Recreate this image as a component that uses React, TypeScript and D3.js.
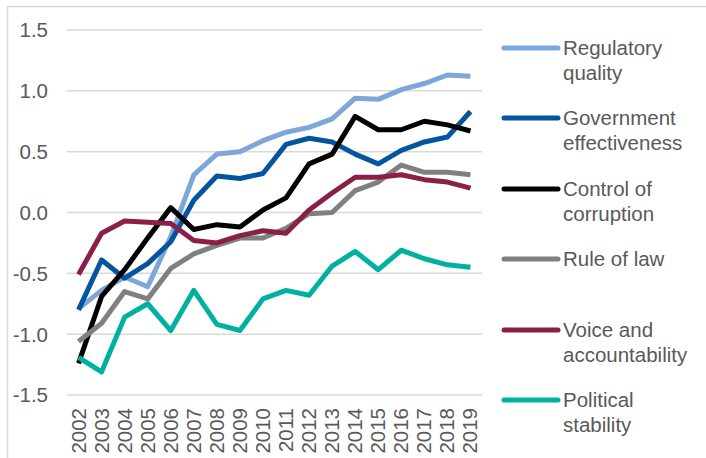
import React from "react";
import * as d3 from "d3";

const years = ["2002","2003","2004","2005","2006","2007","2008","2009","2010","2011","2012","2013","2014","2015","2016","2017","2018","2019"];
const regulatoryQuality = [-0.79,-0.64,-0.53,-0.61,-0.2,0.31,0.48,0.5,0.59,0.66,0.7,0.77,0.94,0.93,1.01,1.06,1.13,1.12];
const governmentEffectiveness = [-0.8,-0.39,-0.54,-0.42,-0.24,0.1,0.3,0.28,0.32,0.56,0.61,0.58,0.48,0.4,0.51,0.58,0.62,0.83];
const controlOfCorruption = [-1.24,-0.69,-0.47,-0.21,0.04,-0.14,-0.1,-0.12,0.02,0.12,0.4,0.48,0.79,0.68,0.68,0.75,0.72,0.67];
const ruleOfLaw = [-1.06,-0.91,-0.65,-0.71,-0.46,-0.34,-0.27,-0.21,-0.21,-0.13,-0.01,0.0,0.18,0.25,0.39,0.33,0.33,0.31];
const voiceAccountability = [-0.51,-0.17,-0.07,-0.08,-0.09,-0.23,-0.25,-0.19,-0.15,-0.17,0.02,0.16,0.29,0.29,0.31,0.27,0.25,0.2];
const politicalStability = [-1.19,-1.31,-0.86,-0.75,-0.97,-0.64,-0.92,-0.97,-0.71,-0.64,-0.68,-0.44,-0.32,-0.47,-0.31,-0.38,-0.43,-0.45];
const yTicks = [-1.5,-1.0,-0.5,0.0,0.5,1.0,1.5];

const series = [
  { label: ["Regulatory", "quality"], values: regulatoryQuality, color: "#7DA6D9" },
  { label: ["Government", "effectiveness"], values: governmentEffectiveness, color: "#0455A0" },
  { label: ["Control of", "corruption"], values: controlOfCorruption, color: "#000000" },
  { label: ["Rule of law"], values: ruleOfLaw, color: "#808080" },
  { label: ["Voice and", "accountability"], values: voiceAccountability, color: "#8A1F47" },
  { label: ["Political", "stability"], values: politicalStability, color: "#00B0A0" },
];

export default function App() {
  const W = 706, H = 458;
  const left = 67, right = 482, top = 30, bottom = 395;
  const x = d3.scaleBand<string>().domain(years).range([left, right]);
  const y = d3.scaleLinear().domain([-1.5, 1.5]).range([bottom, top]);
  const line = d3.line<number>()
    .x((_, i) => (x(years[i]) as number) + x.bandwidth() / 2)
    .y((d) => y(d));
  const font = "Liberation Sans, Arial, sans-serif";
  const fs = 20.5;
  const legendY = [48, 118, 189, 259, 330, 400];
  return (
    <svg width={W} height={H} style={{ position: "absolute", left: 0, top: 0, background: "#fff" }}>
      <rect x={7.5} y={6.5} width={W + 20} height={H + 20} fill="#fff" stroke="#d9d9d9" strokeWidth={1.5} />
      {yTicks.map((t) => (
        <g key={t}>
          <line x1={left} x2={right} y1={y(t)} y2={y(t)} stroke="#d9d9d9" strokeWidth={1.5} />
          <text x={48} y={y(t)} dy="0.36em" textAnchor="end" fontFamily={font} fontSize={fs} fill="#595959">
            {t.toFixed(1)}
          </text>
        </g>
      ))}
      {years.map((yr) => {
        const cx = (x(yr) as number) + x.bandwidth() / 2;
        return (
          <text key={yr} transform={`translate(${cx + 7},408) rotate(-90)`} textAnchor="end" fontFamily={font} fontSize={fs} fill="#595959">
            {yr}
          </text>
        );
      })}
      {series.map((s) => (
        <path key={s.label.join(" ")} d={line(s.values) || ""} fill="none" stroke={s.color} strokeWidth={5} strokeLinejoin="round" />
      ))}
      {series.map((s, i) => (
        <g key={"lg" + i}>
          <line x1={504} x2={558} y1={legendY[i]} y2={legendY[i]} stroke={s.color} strokeWidth={5} strokeLinecap="round" />
          {s.label.map((l, j) => (
            <text key={j} x={563} y={legendY[i] + j * 24.5} dy="0.36em" fontFamily={font} fontSize={fs} fill="#595959">
              {l}
            </text>
          ))}
        </g>
      ))}
    </svg>
  );
}
